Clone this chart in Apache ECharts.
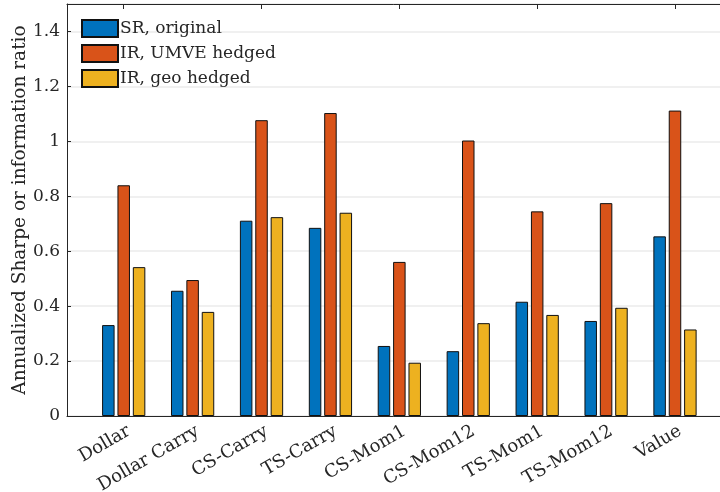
<!DOCTYPE html>
<html>
<head>
<meta charset="utf-8">
<script src="https://cdn.jsdelivr.net/npm/echarts@6/dist/echarts.min.js"></script>
<style>
  html, body { margin: 0; padding: 0; background: #fff; }
  #chart { width: 720px; height: 492px; }
</style>
</head>
<body>
<div id="chart"></div>
<script>
// Strategy names along the horizontal axis
const categories = ['Dollar', 'Dollar Carry', 'CS-Carry', 'TS-Carry', 'CS-Mom1',
                    'CS-Mom12', 'TS-Mom1', 'TS-Mom12', 'Value'];

// Annualized ratios per strategy
const srOriginal   = [0.331, 0.456, 0.711, 0.685, 0.255, 0.236, 0.416, 0.346, 0.654];
const irUmveHedged = [0.840, 0.495, 1.077, 1.103, 0.561, 1.003, 0.745, 0.775, 1.112];
const irGeoHedged  = [0.542, 0.379, 0.724, 0.740, 0.194, 0.338, 0.368, 0.394, 0.315];

const seriesNames = ['SR, original', 'IR, UMVE hedged', 'IR, geo hedged'];
const seriesColors = ['#0072BD', '#D95319', '#EDB120'];

const FONT = 'DejaVu Serif';
const TXT = '#262626';

const chart = echarts.init(document.getElementById('chart'), null, { renderer: 'canvas' });

function barSeries(name, data, color) {
  return {
    name: name,
    type: 'bar',
    xAxisIndex: 2,
    yAxisIndex: 1,
    data: data,
    barWidth: 12.5,
    barGap: '23%',
    itemStyle: { color: color, borderColor: '#111', borderWidth: 1 },
    emphasis: { disabled: true },
    z: 3
  };
}

chart.setOption({
  animation: false,
  textStyle: { fontFamily: FONT, color: TXT },
  grid: [
    // frame: box, value axis and horizontal grid lines
    { left: 67, right: -12, top: 4, bottom: 76, containLabel: false, outerBoundsMode: 'none' },
    // bar groups
    { left: 89.25, right: 10.55, top: 4, bottom: 76, containLabel: false, outerBoundsMode: 'none' }
  ],
  xAxis: [
    { type: 'value', gridIndex: 0, min: 0, max: 1, position: 'bottom',
      axisLine: { show: true, lineStyle: { color: TXT, width: 1 } },
      axisTick: { show: false }, axisLabel: { show: false }, splitLine: { show: false } },
    { type: 'value', gridIndex: 0, min: 0, max: 1, position: 'top',
      axisLine: { show: true, lineStyle: { color: TXT, width: 1 } },
      axisTick: { show: false }, axisLabel: { show: false }, splitLine: { show: false } },
    { type: 'category', gridIndex: 1, data: categories, position: 'bottom',
      axisLine: { show: false },
      axisTick: { show: true, inside: true, alignWithLabel: true, length: 5,
                  lineStyle: { color: TXT, width: 1 } },
      axisLabel: { rotate: 30, fontSize: 18, fontFamily: FONT, color: TXT, margin: 17, interval: 0,
                   padding: [0, -6, 0, 0] },
      splitLine: { show: false } },
    { type: 'category', gridIndex: 1, data: categories, position: 'top',
      axisLine: { show: false },
      axisTick: { show: true, inside: true, alignWithLabel: true, length: 5,
                  lineStyle: { color: TXT, width: 1 } },
      axisLabel: { show: false }, splitLine: { show: false } }
  ],
  yAxis: [
    { type: 'value', gridIndex: 0, min: 0, max: 1.5, interval: 0.2,
      name: 'Annualized Sharpe or information ratio',
      nameLocation: 'middle', nameGap: 37, nameMoveOverlap: false,
      nameTextStyle: { fontSize: 18.5, fontFamily: FONT, color: TXT },
      axisLine: { show: true, lineStyle: { color: TXT, width: 1 } },
      axisTick: { show: true, inside: true, length: 4, lineStyle: { color: TXT } },
      axisLabel: { fontSize: 17, fontFamily: FONT, color: TXT, margin: 7, showMaxLabel: false },
      splitLine: { show: true, lineStyle: { color: '#ebebeb', width: 1.5 } } },
    { type: 'value', gridIndex: 1, min: 0, max: 1.5, show: false,
      splitLine: { show: false } }
  ],
  legend: {
    orient: 'vertical',
    left: 81, top: 19,
    itemWidth: 36, itemHeight: 17, itemGap: 6,
    padding: 0,
    textStyle: { fontSize: 17, lineHeight: 17, fontFamily: FONT, color: TXT, padding: [0, 0, 0, -3] },
    data: seriesNames.map(n => ({ name: n, icon: 'rect' })),
    selectedMode: false
  },
  series: [
    barSeries(seriesNames[0], srOriginal, seriesColors[0]),
    barSeries(seriesNames[1], irUmveHedged, seriesColors[1]),
    barSeries(seriesNames[2], irGeoHedged, seriesColors[2])
  ]
});
</script>
</body>
</html>
